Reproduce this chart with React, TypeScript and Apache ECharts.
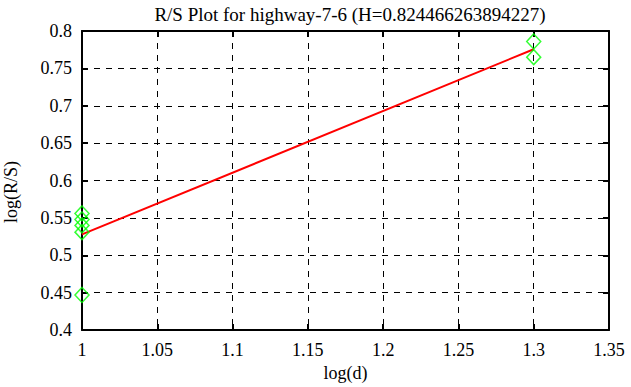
import React, { useEffect, useRef } from "react";
import * as echarts from "echarts";

const title = "R/S Plot for highway-7-6 (H=0.824466263894227)";
const xName = "log(d)";
const yName = "log(R/S)";
const pointsX = [1, 1, 1, 1, 1, 1.3, 1.3];
const pointsY = [0.556, 0.548, 0.54, 0.531, 0.447, 0.786, 0.765];
const fitX = [1, 1.3];
const fitY = [0.528, 0.7756];

export default function App() {
  const ref = useRef<HTMLDivElement>(null);
  useEffect(() => {
    if (!ref.current) return;
    const chart = echarts.init(ref.current, null, { renderer: "svg" });
    const font = "'Liberation Serif', 'Times New Roman', serif";
    const fs = 18;
    const axisCommon = {
      axisLine: { lineStyle: { color: "#000", width: 2 } },
      axisTick: { inside: true, length: 6, lineStyle: { color: "#000", width: 2 } },
    };
    chart.setOption({
      animation: false,
      backgroundColor: "#fff",
      textStyle: { fontFamily: font },
      title: {
        text: title,
        left: 345,
        textAlign: "center",
        top: 0,
        textStyle: { fontFamily: font, fontSize: 19, fontWeight: "normal", color: "#000" },
      },
      grid: { left: 82, right: 22, top: 31, bottom: 56 },
      graphic: [
        {
          type: "text",
          x: 11,
          y: 192,
          rotation: Math.PI / 2,
          style: {
            text: yName,
            fontFamily: font,
            fontSize: fs,
            fill: "#000",
            align: "center",
            verticalAlign: "middle",
          },
        },
      ],
      xAxis: [
        {
          type: "value",
          min: 1,
          max: 1.35,
          interval: 0.05,
          name: xName,
          nameLocation: "middle",
          nameGap: 33,
          nameTextStyle: { fontFamily: font, fontSize: fs, color: "#000" },
          axisLabel: { fontFamily: font, fontSize: fs, color: "#000", margin: 11 },
          splitLine: { show: true, lineStyle: { color: "#000", type: [6, 6], width: 1 } },
          ...axisCommon,
        },
        {
          type: "value",
          position: "top",
          min: 1,
          max: 1.35,
          interval: 0.05,
          axisLabel: { show: false },
          splitLine: { show: false },
          ...axisCommon,
        },
      ],
      yAxis: [
        {
          type: "value",
          min: 0.4,
          max: 0.8,
          interval: 0.05,
          axisLabel: { fontFamily: font, fontSize: fs, color: "#000", margin: 10, padding: [5, 0, 0, 0] },
          splitLine: { show: true, lineStyle: { color: "#000", type: [6, 6], width: 1 } },
          ...axisCommon,
        },
        {
          type: "value",
          position: "right",
          min: 0.4,
          max: 0.8,
          interval: 0.05,
          axisLabel: { show: false },
          splitLine: { show: false },
          ...axisCommon,
        },
      ],
      series: [
        {
          type: "line",
          data: fitX.map((x, i) => [x, fitY[i]]),
          showSymbol: false,
          lineStyle: { color: "#ff0000", width: 2 },
          z: 2,
        },
        {
          type: "scatter",
          data: pointsX.map((x, i) => [x, pointsY[i]]),
          symbol: "diamond",
          symbolSize: [14, 15],
          itemStyle: { color: "transparent", borderColor: "#00ff00", borderWidth: 1.5 },
          z: 3,
        },
      ],
    });
    return () => chart.dispose();
  }, []);
  return <div ref={ref} style={{ width: 631, height: 387, position: "absolute", left: 0, top: 0 }} />;
}
